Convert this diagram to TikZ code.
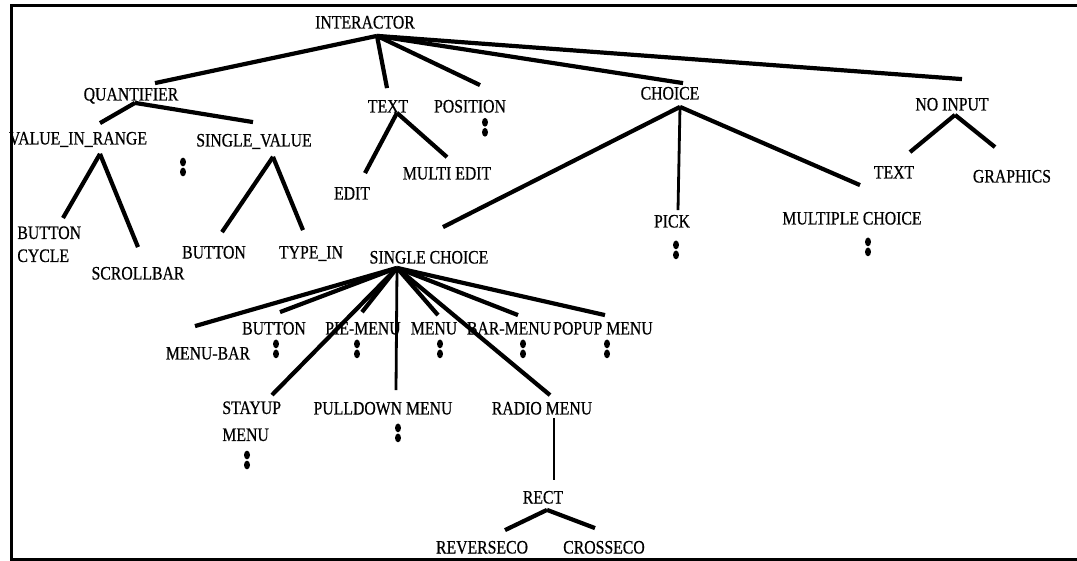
\documentclass[tikz,border=0pt]{standalone}
\usepackage{fontspec}
\setmainfont{Liberation Serif}[FakeStretch=0.83,FakeBold=0.6]
\usetikzlibrary{positioning}

\begin{document}
\begin{tikzpicture}[x=0.5pt,y=-0.5pt,
  lbl/.style={inner sep=1pt, text height=6.5pt, text depth=0pt, font=\fontsize{9.5}{11.5}\selectfont},
  lbltwo/.style={inner sep=1pt, align=left, anchor=north west, font=\fontsize{9.5}{11.5}\selectfont},
  link/.style={line width=2.1pt},
  thinlink/.style={line width=1.4pt},
  dots/.style={inner sep=0pt, minimum width=4pt, minimum height=9.6pt,
    path picture={
      \fill ([yshift=2.5pt]path picture bounding box.center) ellipse (1.5pt and 2.2pt);
      \fill ([yshift=-2.5pt]path picture bounding box.center) ellipse (1.5pt and 2.2pt);}}]
\useasboundingbox (0,0) rectangle (1077,561);
% top level
\node[lbl] (root) at (365,22) {INTERACTOR};
\node[lbl] (quant) at (131,94) {QUANTIFIER};
\node[lbl] (text) at (388,106) {TEXT};
\node[lbl] (pos) at (470,106) {POSITION};
\node[lbl] (choice) at (670,93) {CHOICE};
\node[lbl] (noinput) at (952,104) {NO INPUT};
\node[dots, below=1.2pt of pos, xshift=7.5pt] (posdots) {};
% quantifier
\node[lbl] (vir) at (78,138) {VALUE\_IN\_RANGE};
\node[lbl] (sval) at (254,140) {SINGLE\_VALUE};
\node[dots] (qdots) at (183,167) {};
\node[lbltwo] (bcycle) at (15,224) {BUTTON\\CYCLE};
\node[lbl] (scroll) at (138,273) {SCROLLBAR};
\node[lbl] (svbutton) at (214,252) {BUTTON};
\node[lbl] (typein) at (311,252) {TYPE\_IN};
% text
\node[lbl] (edit) at (352,193) {EDIT};
\node[lbl] (medit) at (447,173) {MULTI EDIT};
% choice
\node[lbl] (single) at (429,257) {SINGLE CHOICE};
\node[lbl] (pick) at (672,221) {PICK};
\node[lbl] (mchoice) at (852,218) {MULTIPLE CHOICE};
\node[dots, below=5pt of pick, xshift=2pt] (pickdots) {};
\node[dots, below=5pt of mchoice, xshift=8pt] (mcdots) {};
% no input
\node[lbl] (ntext) at (894,172) {TEXT};
\node[lbl] (graphics) at (1012,176) {GRAPHICS};
% single choice
\node[lbl] (menubar) at (208,353) {MENU-BAR};
\node[lbl] (button) at (274,328) {BUTTON};
\node[lbl] (pie) at (363,328) {PIE-MENU};
\node[lbl] (menu) at (434,328) {MENU};
\node[lbl] (barmenu) at (509,328) {BAR-MENU};
\node[lbl] (popup) at (603,328) {POPUP MENU};
\node[dots, below=1pt of button, xshift=1pt] (buttondots) {};
\node[dots, below=1pt of pie, xshift=-3pt] (piedots) {};
\node[dots, below=1pt of menu, xshift=3pt] (menudots) {};
\node[dots, below=1pt of barmenu, xshift=7pt] (bardots) {};
\node[dots, below=1pt of popup, xshift=2pt] (popupdots) {};
\node[lbltwo] (stayup) at (220,399) {STAYUP\\[2pt]MENU};
\node[dots] (stayupdots) at (247,460) {};
\node[lbl] (pulldown) at (383,408) {PULLDOWN MENU};
\node[dots, below=3pt of pulldown, xshift=7.5pt] (pulldots) {};
\node[lbl] (radio) at (542,408) {RADIO MENU};
\node[lbl] (rect) at (543,497) {RECT};
\node[lbl] (reverse) at (482,547) {REVERSECO};
\node[lbl] (cross) at (604,547) {CROSSECO};
% branch points
\coordinate (rootc) at ([shift={(12,5)}]root.south);
\coordinate (quantc) at ([shift={(4,0)}]quant.south);
\coordinate (virc) at ([shift={(22,7)}]vir.south);
\coordinate (svalc) at ([shift={(19,8)}]sval.south);
\coordinate (textc) at ([shift={(9,-2)}]text.south);
\coordinate (choicec) at ([shift={(10,5)}]choice.south);
\coordinate (noinputc) at ([shift={(3,2)}]noinput.south);
\coordinate (singlec) at ([shift={(-32,2)}]single.south);
\coordinate (rectc) at ([shift={(4,4)}]rect.south);
% links from interactor
\draw[link] (rootc) -- ([shift={(24,-2)}]quant.north);
\draw[link] (rootc) -- ([shift={(-1,-9)}]text.north);
\draw[link] (rootc) -- ([shift={(10,-12)}]pos.north);
\draw[link] (rootc) -- ([shift={(13,-1)}]choice.north);
\draw[link] (rootc) -- ([shift={(10,-16)}]noinput.north);
% quantifier
\draw[link] (quantc) -- ([shift={(22,-6)}]vir.north);
\draw[link] (quantc) -- ([shift={(-1,-9)}]sval.north);
\draw[link] (virc) -- ([shift={(48,-6)}]bcycle.north west);
\draw[link] (virc) -- ([shift={(0,-17)}]scroll.north);
\draw[link] (svalc) -- ([shift={(8,-11)}]svbutton.north);
\draw[link] (svalc) -- ([shift={(-8,-13)}]typein.north);
% text
\draw[link] (textc) -- ([shift={(13,-11)}]edit.north);
\draw[link] (textc) -- ([shift={(0,-7)}]medit.north);
% choice
\draw[link] (choicec) -- ([shift={(14,-21)}]single.north);
\draw[thinlink] (choicec) -- ([shift={(6,-2)}]pick.north);
\draw[link] (choicec) -- ([shift={(8,-24)}]mchoice.north);
% no input
\draw[link] (noinputc) -- ([shift={(16,-11)}]ntext.north);
\draw[link] (noinputc) -- ([shift={(-17,-20)}]graphics.north);
% single choice
\draw[link] (singlec) -- ([shift={(-13,-18)}]menubar.north);
\draw[link] (singlec) -- ([shift={(6,-7)}]button.north);
\draw[link] (singlec) -- ([shift={(52,-4)}]stayup.north west);
\draw[link] (singlec) -- ([shift={(-1,-7)}]pie.north);
\draw[thinlink] (singlec) -- ([shift={(13,-9)}]pulldown.north);
\draw[link] (singlec) -- ([shift={(4,-4)}]menu.north);
\draw[link] (singlec) -- ([shift={(8,-4)}]radio.north);
\draw[link] (singlec) -- ([shift={(9,-4)}]barmenu.north);
\draw[link] (singlec) -- ([shift={(2,-4)}]popup.north);
% radio menu
\draw[line width=0.9pt] ([shift={(12,1)}]radio.south) -- ([shift={(11,-8)}]rect.north);
\draw[link] (rectc) -- ([shift={(23,-8)}]reverse.north);
\draw[link] (rectc) -- ([shift={(-9,-10)}]cross.north);
% frame
\draw[line width=1.5pt] (1077,6) -- (11,6) -- (11,559) -- (1077,559);
\end{tikzpicture}
\end{document}
